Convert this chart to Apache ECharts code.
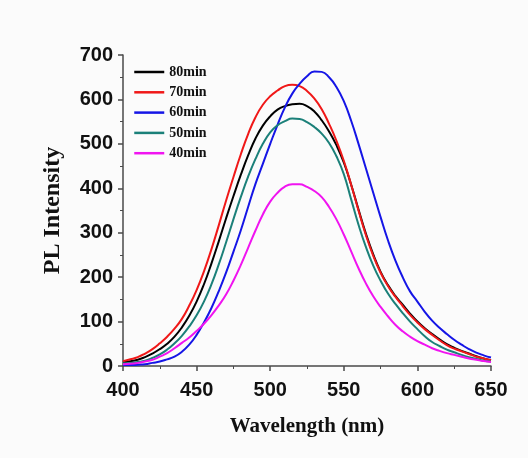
<!DOCTYPE html>
<html>
<head>
<meta charset="utf-8">
<script src="https://cdn.jsdelivr.net/npm/echarts@6/dist/echarts.min.js"></script>
<style>
  html, body { margin: 0; padding: 0; background: #fbfbfb; }
  #chart { width: 528px; height: 458px; }
</style>
</head>
<body>
<div id="chart"></div>
<script>
const wavelengths = [400, 405, 410, 415, 420, 425, 430, 435, 440, 445, 450, 455, 460, 465, 470, 475, 480, 485, 490, 495,
  500, 505, 510, 515, 520, 525, 530, 535, 540, 545, 550, 555, 560, 565, 570, 575, 580, 585, 590, 595,
  600, 605, 610, 615, 620, 625, 630, 635, 640, 645, 650]

const seriesNames = ['80min', '70min', '60min', '50min', '40min']
const seriesColors = ['#000000', '#f01818', '#1515e6', '#1b8079', '#f014f0']

const min80 = [8, 11, 14, 20, 28, 38, 50, 66, 87, 113, 145, 184, 230, 280, 332, 382, 430, 474, 512, 541,
  562, 577, 585, 589, 590, 585, 573, 553, 528, 497, 458, 408, 352, 298, 251, 212, 182, 158, 138, 118,
  100, 85, 72, 60, 49, 41, 34, 28, 22, 17, 13]
const min70 = [11, 15, 20, 28, 38, 51, 66, 84, 106, 136, 171, 213, 262, 316, 372, 425, 476, 522, 560, 588,
  607, 620, 630, 633, 630, 619, 602, 578, 545, 507, 462, 408, 350, 295, 248, 210, 180, 156, 135, 115,
  98, 83, 70, 58, 47, 39, 33, 27, 21, 17, 13]
const min60 = [2, 2, 3, 4, 7, 10, 15, 21, 32, 48, 70, 98, 130, 168, 210, 257, 305, 358, 410, 455,
  500, 543, 582, 613, 635, 652, 663, 662, 650, 628, 596, 552, 500, 445, 390, 335, 283, 238, 200, 168,
  145, 122, 102, 86, 72, 59, 48, 38, 30, 24, 19]
const min50 = [6, 7, 9, 12, 18, 26, 37, 51, 68, 89, 114, 145, 183, 228, 278, 330, 380, 426, 466, 500,
  526, 542, 551, 557, 556, 549, 538, 523, 502, 472, 432, 375, 318, 268, 226, 192, 163, 140, 119, 100,
  83, 67, 54, 45, 37, 31, 25, 20, 16, 12, 10]
const min40 = [4, 5, 7, 10, 14, 21, 29, 40, 52, 64, 79, 95, 114, 136, 161, 192, 227, 266, 305, 341,
  370, 390, 404, 409, 409, 403, 394, 380, 358, 330, 296, 258, 220, 186, 157, 133, 112, 93, 78, 66,
  56, 48, 40, 34, 29, 25, 21, 17, 14, 11, 9]

const allValues = [min80, min70, min60, min50, min40]

const chart = echarts.init(document.getElementById('chart'))

const axisColor = '#4a4a4a'

const option = {
  backgroundColor: '#fbfbfb',
  animation: false,
  grid: { left: 123, top: 55, right: 37, bottom: 92 },
  legend: {
    orient: 'vertical',
    left: 133,
    top: 65,
    padding: 0,
    itemWidth: 30,
    itemHeight: 14,
    itemGap: 6.3,
    itemStyle: { opacity: 0 },
    lineStyle: { width: 2.5 },
    textStyle: { fontFamily: 'Liberation Serif', fontWeight: 'bold', fontSize: 14, color: '#111' },
    data: seriesNames,
  },
  xAxis: {
    type: 'value',
    min: 400,
    max: 650,
    interval: 50,
    name: 'Wavelength (nm)',
    nameLocation: 'middle',
    nameGap: 50,
    nameTextStyle: { fontFamily: 'Liberation Serif', fontWeight: 'bold', fontSize: 21, color: '#111' },
    axisLine: { lineStyle: { color: axisColor, width: 1.5 } },
    axisTick: { inside: false, length: 5, lineStyle: { color: axisColor, width: 1.5 } },
    minorTick: { show: true, splitNumber: 2, length: 3, lineStyle: { color: axisColor } },
    axisLabel: { margin: 14, fontFamily: 'Liberation Sans', fontWeight: 'bold', fontSize: 20, color: '#111' },
    splitLine: { show: false },
  },
  yAxis: {
    type: 'value',
    min: 0,
    max: 700,
    interval: 100,
    name: 'PL Intensity',
    nameLocation: 'middle',
    nameGap: 58,
    nameTextStyle: { fontFamily: 'Liberation Serif', fontWeight: 'bold', fontSize: 24, color: '#111' },
    axisLine: { show: true, lineStyle: { color: axisColor, width: 1.5 } },
    axisTick: { show: true, inside: false, length: 5, lineStyle: { color: axisColor, width: 1.5 } },
    minorTick: { show: true, splitNumber: 2, length: 3, lineStyle: { color: axisColor } },
    axisLabel: { margin: 10, fontFamily: 'Liberation Sans', fontWeight: 'bold', fontSize: 20, color: '#111' },
    splitLine: { show: false },
  },
  series: seriesNames.map((name, i) => ({
    name,
    type: 'line',
    smooth: true,
    symbol: 'none',
    color: seriesColors[i],
    lineStyle: { width: 2, color: seriesColors[i] },
    data: wavelengths.map((w, j) => [w, allValues[i][j]]),
  })),
}

chart.setOption(option)
</script>
</body>
</html>
